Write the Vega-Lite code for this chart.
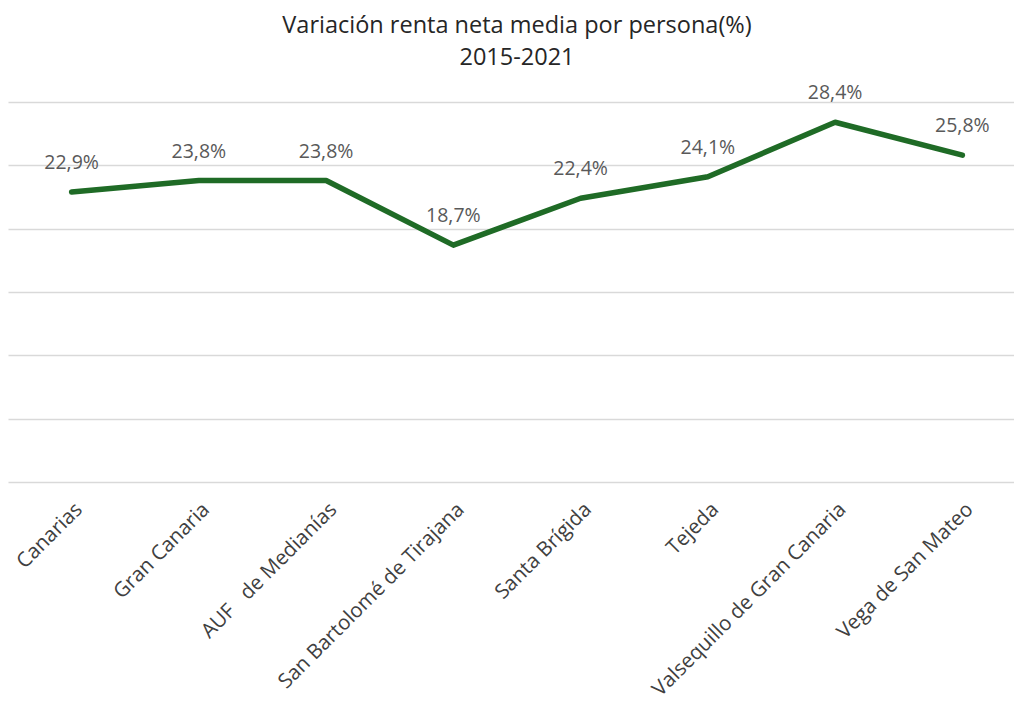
{
  "$schema": "https://vega.github.io/schema/vega-lite/v6.json",
  "width": 1018,
  "height": 380,
  "autosize": {"type": "none"},
  "padding": {"left": 8, "top": 102, "right": 0, "bottom": 222},
  "background": "white",
  "title": {
    "text": ["Variación renta neta media por persona(%)", "2015-2021"],
    "font": "Open Sans",
    "fontSize": 23.5,
    "fontWeight": "normal",
    "color": "#262626",
    "lineHeight": 32,
    "anchor": "middle",
    "offset": 14
  },
  "config": {
    "view": {"stroke": null},
    "font": "Open Sans"
  },
  "data": {
    "values": [
      {"municipio": "Canarias", "variacion": 22.9, "etiqueta": "22,9%"},
      {"municipio": "Gran Canaria", "variacion": 23.8, "etiqueta": "23,8%"},
      {"municipio": "AUF\u00a0\u00a0\u00a0de Medianías", "variacion": 23.8, "etiqueta": "23,8%"},
      {"municipio": "San Bartolomé de Tirajana", "variacion": 18.7, "etiqueta": "18,7%"},
      {"municipio": "Santa Brígida", "variacion": 22.4, "etiqueta": "22,4%"},
      {"municipio": "Tejeda", "variacion": 24.1, "etiqueta": "24,1%"},
      {"municipio": "Valsequillo de Gran Canaria", "variacion": 28.4, "etiqueta": "28,4%"},
      {"municipio": "Vega de San Mateo", "variacion": 25.8, "etiqueta": "25,8%"}
    ]
  },
  "encoding": {
    "x": {
      "field": "municipio",
      "type": "nominal",
      "sort": null,
      "scale": {"type": "point", "padding": 0.5},
      "axis": {
        "title": null,
        "domain": false,
        "ticks": false,
        "grid": false,
        "labelAngle": -45,
        "labelFontSize": 20.5,
        "labelFont": "Open Sans",
        "labelColor": "#404040",
        "labelPadding": 17,
        "labelLimit": 400
      }
    },
    "y": {
      "field": "variacion",
      "type": "quantitative",
      "scale": {"domain": [0, 30], "nice": false, "zero": true},
      "axis": {
        "title": null,
        "domain": false,
        "ticks": false,
        "labels": false,
        "grid": true,
        "values": [0, 5, 10, 15, 20, 25, 30],
        "gridColor": "#d9d9d9",
        "gridWidth": 1.5
      }
    }
  },
  "layer": [
    {
      "mark": {"type": "line", "color": "#1f6b26", "strokeWidth": 5.5, "strokeCap": "round", "strokeJoin": "round"}
    },
    {
      "mark": {"type": "text", "baseline": "alphabetic", "dy": -23, "fontSize": 19.5, "font": "Open Sans", "color": "#595959"},
      "encoding": {"text": {"field": "etiqueta"}}
    }
  ]
}
